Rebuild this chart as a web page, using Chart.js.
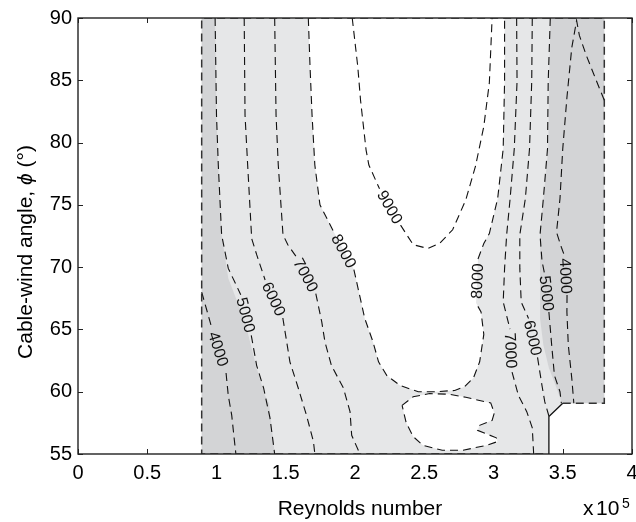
<!DOCTYPE html>
<html><head><meta charset="utf-8">
<script src="https://cdn.jsdelivr.net/npm/chart.js@4/dist/chart.umd.min.js"></script>
<style>html,body{margin:0;padding:0;background:#fff;}</style>
</head><body>
<canvas id="c" width="636" height="522"></canvas>
<script>
// ---- axes ----
const xTicks = [0, 0.5, 1, 1.5, 2, 2.5, 3, 3.5, 4];
const yTicks = [55, 60, 65, 70, 75, 80, 85, 90];
const xTitle = 'Reynolds number';
const yTitleParts = ['Cable-wind angle, ', '\u03D5', ' (\u00B0)'];

// ---- data domain (Reynolds number x1e5, cable-wind angle deg) ----
const domain = [[0.893,55],[0.893,90],[3.80,90],[3.80,59.07],[3.50,59.07],[3.40,58.0],[3.40,55]];
const domainEdge = [[3.50,59.07],[3.80,59.07],[3.80,90],[0.893,90],[0.893,55],[3.40,55]];
const domainCut = [[3.40,55],[3.40,58.0],[3.50,59.07]];

// ---- filled bands ----
const darkLeft = [[0.893,55],[0.893,90],[0.99,90],[1.00,82.2],[1.013,78.2],[1.037,72.6],[1.085,69.1],[1.206,65.6],[1.29,61.9],[1.35,59.7],[1.38,59.07],[1.42,55]];
const darkRight = [[3.41,90],[3.395,79.5],[3.336,72.6],[3.336,65.9],[3.36,63.75],[3.40,61.9],[3.455,60.3],[3.49,59.2],[3.50,59.07],[3.80,59.07],[3.80,90]];

// ---- contour lines ----
const c4000L = [[0.893,68.0],[0.96,65.36],[1.069,61.5],[1.085,59.7],[1.11,58.1],[1.13,56.0],[1.14,55.0]];
const c5000L = [[0.99,90],[1.00,82.2],[1.013,78.2],[1.037,72.6],[1.085,69.9],[1.175,67.79],[1.251,64.53],[1.29,62.1],[1.34,60.3],[1.386,57.9],[1.42,55]];
const c6000L = [[1.20,90],[1.206,82.2],[1.225,78.2],[1.254,72.3],[1.29,71.0],[1.351,68.97],[1.479,65.92],[1.53,62.4],[1.59,60.3],[1.65,58.1],[1.70,56.0],[1.71,55]];
const c7000L = [[1.42,90],[1.43,82.2],[1.446,78.2],[1.48,72.6],[1.515,71.8],[1.575,70.85],[1.717,67.88],[1.76,65.6],[1.783,64.0],[1.83,62.1],[1.916,60.3],[1.964,58.4],[1.976,56.5],[2.036,55]];
const c8000 = [[1.663,90],[1.675,86.2],[1.69,82.2],[1.71,78.2],[1.747,75.0],[1.849,72.78],[1.992,69.81],[2.07,65.9],[2.13,64.0],[2.17,62.4],[2.23,61.3],[2.325,60.5],[2.457,60.0],[2.58,60.0],[2.72,60.1],[2.79,60.4],[2.855,61.1],[2.90,62.4],[2.93,64.6],[2.91,66.4],[2.874,67.12],[2.888,70.65],[2.93,71.9],[2.97,72.7],[3.03,75.5],[3.07,79.5],[3.08,84.9],[3.08,90]];
const c8000Island = [[2.34,58.9],[2.42,59.6],[2.54,59.85],[2.68,59.8],[2.80,59.55],[2.98,59.1],[3.006,58.3],[2.99,57.7],[2.90,57.3],[2.885,56.9],[3.02,56.3],[3.03,56.0],[2.95,55.7],[2.78,55.3],[2.63,55.3],[2.49,55.7],[2.42,56.4],[2.37,57.5],[2.34,58.9]];
const c9000 = [[1.98,90],[2.02,86.1],[2.04,83.4],[2.08,79.4],[2.10,78.2],[2.177,76.29],[2.329,73.37],[2.42,71.8],[2.525,71.5],[2.61,71.9],[2.705,73.0],[2.80,75.4],[2.87,78.1],[2.93,81.3],[2.97,84.8],[2.99,90]];
const c7000R = [[3.167,90],[3.17,84.9],[3.15,79.5],[3.12,75.5],[3.095,72.6],[3.08,69.9],[3.07,67.2],[3.119,65.03],[3.134,61.58],[3.18,59.7],[3.24,58.4],[3.28,57.1],[3.29,55]];
const c6000R = [[3.28,90],[3.276,84.9],[3.26,79.5],[3.23,75.5],[3.19,72.6],[3.19,69.9],[3.20,67.2],[3.253,65.88],[3.318,62.75],[3.35,60.5],[3.37,59.2],[3.40,58.05]];
const c5000R = [[3.41,90],[3.395,84.9],[3.39,79.5],[3.36,75.5],[3.336,72.6],[3.35,70.5],[3.37,69.4],[3.40,66.4],[3.42,63.75],[3.44,61.3],[3.48,60.0],[3.49,59.07]];
const c4000R = [[3.80,83.4],[3.745,84.9],[3.67,87.0],[3.62,88.6],[3.60,89.8],[3.565,87.6],[3.53,83.6],[3.50,79.5],[3.48,75.5],[3.455,72.8],[3.49,71.6],[3.516,70.81],[3.531,67.76],[3.53,66.4],[3.54,63.75],[3.565,61.1],[3.58,59.07]];

// ---- inline contour labels: text placed in the gap after point index `at` ----
const contourLabels = [
  {text:'4000', line:c4000L, at:1},
  {text:'5000', line:c5000L, at:5},
  {text:'6000', line:c6000L, at:5},
  {text:'7000', line:c7000L, at:5},
  {text:'8000', line:c8000, at:5},
  {text:'8000', line:c8000, at:20},
  {text:'9000', line:c9000, at:5},
  {text:'7000', line:c7000R, at:7},
  {text:'6000', line:c6000R, at:7},
  {text:'5000', line:c5000R, at:6},
  {text:'4000', line:c4000R, at:11}
];

const LIGHT = '#e6e7e8', DARK = '#d3d4d6', INK = '#111';
const FONT = "'Liberation Sans', Arial, Helvetica, sans-serif";

function toPts(arr, gaps) {
  const out = [];
  arr.forEach((p, i) => {
    out.push({x: p[0], y: p[1]});
    if (gaps && gaps.includes(i)) out.push({x: p[0], y: null});
  });
  return out;
}
function gapsOf(line) { return contourLabels.filter(l => l.line === line).map(l => l.at); }

const datasets = [];
[[domain, LIGHT, 20], [darkLeft, DARK, 19], [darkRight, DARK, 19], [c8000, '#ffffff', 19], [c8000Island, '#ffffff', 19]]
  .forEach(([arr, col, ord]) => datasets.push({
    data: toPts(arr), fill: 'shape', backgroundColor: col, borderColor: 'rgba(0,0,0,0)',
    borderWidth: 0, pointRadius: 0, tension: 0, order: ord
  }));
[c4000L, c5000L, c6000L, c7000L, c8000, c8000Island, c9000, c7000R, c6000R, c5000R, c4000R]
  .forEach(arr => datasets.push({
    data: toPts(arr, gapsOf(arr)), fill: false, borderColor: INK, borderWidth: 1.1,
    borderDash: [8, 5], pointRadius: 0, tension: 0, spanGaps: false, order: 5
  }));
datasets.push({data: toPts(domainEdge), fill: false, borderColor: '#333', borderWidth: 1.5, borderDash: [8, 5], pointRadius: 0, order: 4});
datasets.push({data: toPts(domainCut), fill: false, borderColor: '#111', borderWidth: 1.3, pointRadius: 0, order: 4});

const decor = {
  id: 'decor',
  beforeDatasetsDraw(chart) {
    const {ctx, chartArea: a, scales: {x, y}} = chart;
    ctx.save();
    ctx.strokeStyle = '#222'; ctx.lineWidth = 1;
    ctx.beginPath();
    x.ticks.forEach(t => {
      const px = Math.round(x.getPixelForValue(t.value)) + 0.5;
      ctx.moveTo(px, a.bottom); ctx.lineTo(px, a.bottom - 5);
      ctx.moveTo(px, a.top); ctx.lineTo(px, a.top + 5);
    });
    y.ticks.forEach(t => {
      const py = Math.round(y.getPixelForValue(t.value)) + 0.5;
      ctx.moveTo(a.left, py); ctx.lineTo(a.left + 5, py);
      ctx.moveTo(a.right, py); ctx.lineTo(a.right - 5, py);
    });
    ctx.stroke();
    ctx.restore();
  },
  afterDatasetsDraw(chart) {
    const {ctx, chartArea: a, scales: {x, y}} = chart;
    ctx.save();
    // contour labels
    ctx.fillStyle = '#111';
    ctx.font = '16px ' + FONT;
    ctx.textAlign = 'center'; ctx.textBaseline = 'middle';
    contourLabels.forEach(l => {
      const p1 = l.line[l.at], p2 = l.line[l.at + 1];
      const x1 = x.getPixelForValue(p1[0]), y1 = y.getPixelForValue(p1[1]);
      const x2 = x.getPixelForValue(p2[0]), y2 = y.getPixelForValue(p2[1]);
      let ang = Math.atan2(y2 - y1, x2 - x1);
      if (ang > Math.PI / 2) ang -= Math.PI;
      if (ang < -Math.PI / 2) ang += Math.PI;
      ctx.save();
      ctx.translate((x1 + x2) / 2, (y1 + y2) / 2);
      ctx.rotate(ang);
      ctx.fillText(l.text, 0, 1);
      ctx.restore();
    });
    // frame
    ctx.strokeStyle = '#222'; ctx.lineWidth = 1.4;
    ctx.strokeRect(a.left, a.top, a.right - a.left, a.bottom - a.top);
    // titles
    ctx.fillStyle = '#000';
    ctx.textBaseline = 'alphabetic';
    ctx.font = '21px ' + FONT;
    ctx.textAlign = 'center';
    ctx.fillText(xTitle, 360, 515);
    // x10^5
    ctx.textAlign = 'left';
    ctx.fillText('x', 583, 515);
    ctx.fillText('10', 596, 515);
    ctx.font = '14px ' + FONT;
    ctx.fillText('5', 622, 508);
    // y title (rotated)
    ctx.save();
    ctx.translate(32, 252);
    ctx.rotate(-Math.PI / 2);
    const fonts = ['21px ' + FONT, 'italic 21px ' + FONT, '21px ' + FONT];
    const widths = yTitleParts.map((s, i) => { ctx.font = fonts[i]; return ctx.measureText(s).width; });
    let cx = -widths.reduce((s, w) => s + w, 0) / 2;
    ctx.textAlign = 'left';
    yTitleParts.forEach((s, i) => { ctx.font = fonts[i]; ctx.fillText(s, cx, 0); cx += widths[i]; });
    ctx.restore();
    ctx.restore();
  }
};

new Chart(document.getElementById('c'), {
  type: 'line',
  data: {datasets},
  options: {
    responsive: false, animation: false, devicePixelRatio: 1,
    layout: {padding: {left: 0, right: 4, top: 18, bottom: 0}},
    plugins: {legend: {display: false}, tooltip: {enabled: false}},
    scales: {
      x: {
        type: 'linear', min: 0, max: 4,
        afterBuildTicks: s => { s.ticks = xTicks.map(v => ({value: v})); },
        ticks: {font: {family: FONT, size: 20}, color: '#000', padding: 7, maxRotation: 0, autoSkip: false,
                callback: v => String(v)},
        grid: {display: false, drawTicks: false}, border: {display: false},
        afterFit: s => { s.height = 68; s.paddingLeft = 0; s.paddingRight = 0; }
      },
      y: {
        type: 'linear', min: 55, max: 90,
        afterBuildTicks: s => { s.ticks = yTicks.map(v => ({value: v})); },
        ticks: {font: {family: FONT, size: 20}, color: '#000', padding: 6, autoSkip: false,
                callback: v => String(v)},
        grid: {display: false, drawTicks: false}, border: {display: false},
        afterFit: s => { s.width = 78; s.paddingTop = 0; s.paddingBottom = 0; }
      }
    }
  },
  plugins: [decor]
});
</script>
</body></html>
